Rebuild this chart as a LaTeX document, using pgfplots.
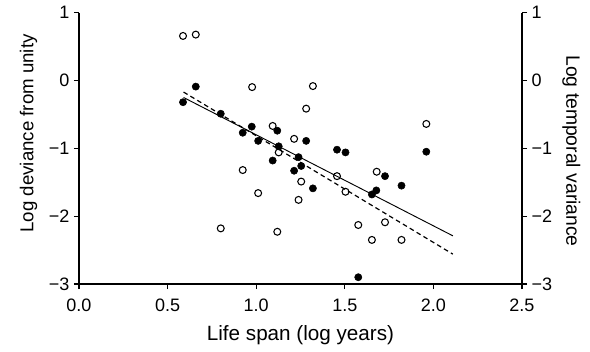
\documentclass[border=0pt]{standalone}
\usepackage{pgfplots}
\pgfplotsset{compat=1.18}
\usepackage{fontspec}
\setmainfont{Liberation Sans}
\begin{document}
\begin{tikzpicture}
\pgfplotsset{
  common/.style={
    scale only axis, width=332.25pt, height=203.5pt,
    xmin=0, xmax=2.5, ymin=-3, ymax=1,
    tick align=outside, major tick length=3.75pt,
    tick style={line width=0.9pt, black},
    axis line style={line width=1.25pt, -},
    ticklabel style={font=\fontsize{13.5}{13.5}\selectfont},
    ytick={-3,-2,-1,0,1},
    yticklabels={−3,−2,−1,0,1},
  }
}
\begin{axis}[common,
  axis x line*=bottom, axis y line*=left,
  xtick={0,0.5,1,1.5,2,2.5},
  xticklabels={0.0,0.5,1.0,1.5,2.0,2.5},
  xticklabel shift=4pt,
  xlabel={Life span (log years)},
  xlabel style={at={(axis description cs:0.5,-0.209)}, anchor=base, font=\fontsize{15.5}{15.5}\selectfont},
  ylabel={Log deviance from unity},
  ylabel style={at={(axis description cs:-0.103,0.555)}, anchor=base, font=\fontsize{14}{14}\selectfont},
  clip=false]
\path (rel axis cs:0,0) ++(-59.25pt,-50.25pt) rectangle ++(442.5pt,263.25pt);
\addplot[black, line width=0.7pt] coordinates {(0.59,-0.25) (2.11,-2.29)};
\addplot[black, line width=0.9pt, dash pattern=on 3.5pt off 2.5pt] coordinates {(0.59,-0.17) (2.11,-2.56)};
\addplot[only marks, mark=*, mark size=2.7pt, black] coordinates {
(0.587,-0.32) (0.659,-0.09) (0.80,-0.49) (0.924,-0.77) (0.975,-0.68)
(1.011,-0.89) (1.093,-1.18) (1.119,-0.74) (1.127,-0.97) (1.239,-1.13)
(1.254,-1.26) (1.214,-1.33) (1.282,-0.89) (1.32,-1.59) (1.456,-1.02)
(1.504,-1.06) (1.576,-2.90) (1.653,-1.68) (1.678,-1.62) (1.727,-1.41)
(1.82,-1.55) (1.96,-1.05)};
\addplot[only marks, mark=o, mark size=2.6pt, mark options={line width=0.8pt, fill=white}, black] coordinates {
(0.587,0.657) (0.659,0.677) (0.977,-0.097) (1.32,-0.082) (1.282,-0.415)
(1.093,-0.67) (1.214,-0.86) (1.127,-1.06) (0.924,-1.32) (1.011,-1.66)
(1.254,-1.49) (1.239,-1.76) (0.80,-2.18) (1.119,-2.23) (1.456,-1.41)
(1.504,-1.64) (1.68,-1.345) (1.96,-0.64) (1.576,-2.13) (1.653,-2.35)
(1.727,-2.09) (1.82,-2.35)};
\end{axis}
\begin{axis}[common,
  axis x line=none, axis y line*=right,
  ylabel={Log temporal variance},
  ylabel style={at={(axis description cs:1.1,0.49)}, anchor=base, rotate=180, font=\fontsize{14.5}{14.5}\selectfont}]
\end{axis}
\end{tikzpicture}
\end{document}
